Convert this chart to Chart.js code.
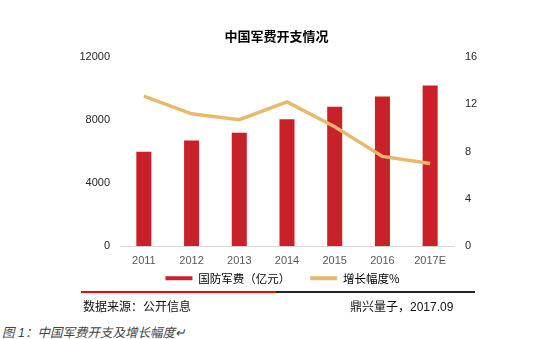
<!DOCTYPE html>
<html>
<head>
<meta charset="utf-8">
<script src="https://cdn.jsdelivr.net/npm/chart.js@4.4.0/dist/chart.umd.min.js"></script>
<style>
  body { margin: 0; background: #fff; }
  #wrap { position: relative; width: 553px; height: 339px; overflow: hidden; font-family: "Liberation Sans", "Noto Sans CJK SC", sans-serif; }
  #box { position: absolute; left: 0; top: 0; width: 553px; height: 317px; }
  .rule { position: absolute; top: 291px; height: 2px; }
  .note { position: absolute; top: 300px; font-size: 12px; color: #111; line-height: 14px; white-space: nowrap; }
  #caption { position: absolute; left: 2px; top: 325px; font-size: 12.5px; font-style: italic; color: #444; white-space: nowrap; line-height: 16px; }
</style>
</head>
<body>
<div id="wrap">
  <div id="box"><canvas id="c"></canvas></div>
  <div class="rule" style="left:81px;width:195px;background:#f00;"></div>
  <div class="rule" style="left:276px;width:199px;background:#222;"></div>
  <div class="note" style="left:83px;">数据来源：公开信息</div>
  <div class="note" style="left:350px;">鼎兴量子，2017.09</div>
  <div id="caption">图 1：中国军费开支及增长幅度↵</div>
</div>
<script>
var years = ['2011', '2012', '2013', '2014', '2015', '2016', '2017E'];
var spending = [6000, 6700, 7200, 8050, 8850, 9500, 10200];
var growth = [12.7, 11.2, 10.7, 12.2, 10.1, 7.6, 7.0];
var leftTicks = [0, 4000, 8000, 12000];
var rightTicks = [0, 4, 8, 12, 16];

var red = '#c9202a';
var tan = '#e8b96b';
var cjk = '"Noto Sans CJK SC", sans-serif';

// move the legend a little right and up, like the original
var shiftLegend = {
	id: 'shiftLegend',
	afterLayout: function(chart) {
		var l = chart.legend;
		l.left += 6; l.right += 6;
		l.top -= 23; l.bottom -= 23;
	}
};

function plain(v) { return String(v); }

var ctx = document.getElementById('c').getContext('2d');
window.myChart = new Chart(ctx, {
	type: 'bar',
	data: {
		labels: years,
		datasets: [
			{ label: '国防军费（亿元）', data: spending, backgroundColor: red, yAxisID: 'y', barPercentage: 0.315, categoryPercentage: 1, order: 2 },
			{ type: 'line', label: '增长幅度%', data: growth, borderColor: tan, backgroundColor: tan, borderWidth: 3.5, pointRadius: 0, tension: 0, yAxisID: 'y1', order: 1 }
		]
	},
	options: {
		responsive: true, maintainAspectRatio: false, animation: false,
		layout: { padding: 0 },
		plugins: {
			title: { display: true, text: '中国军费开支情况', color: '#000', font: { family: cjk, size: 13, weight: 'bold' }, padding: { top: 28, bottom: 13.4 } },
			legend: {
				position: 'bottom',
				labels: {
					boxWidth: 27, boxHeight: 4, padding: 20, color: '#000',
					font: { family: cjk, size: 11.5 },
					sort: function(a, b) { return a.datasetIndex - b.datasetIndex; },
					generateLabels: function(chart) {
						return Chart.defaults.plugins.legend.labels.generateLabels(chart).map(function(it) {
							it.lineWidth = 0;
							return it;
						});
					}
				}
			},
			tooltip: { enabled: false }
		},
		scales: {
			x: {
				grid: { display: false, drawTicks: false },
				border: { display: true, color: '#d9d9d9', width: 1 },
				ticks: { color: '#595959', font: { family: 'Liberation Sans', size: 11 }, padding: 8 }
			},
			y: {
				position: 'left', min: 0, max: 12000,
				afterBuildTicks: function(s) { s.ticks = leftTicks.map(function(v) { return { value: v }; }); },
				grid: { display: false, drawTicks: false },
				border: { display: false },
				ticks: { color: '#262626', font: { family: 'Liberation Sans', size: 11 }, padding: 10, callback: plain },
				afterFit: function(s) { s.width = 120; }
			},
			y1: {
				position: 'right', min: 0, max: 16,
				afterBuildTicks: function(s) { s.ticks = rightTicks.map(function(v) { return { value: v }; }); },
				grid: { display: false, drawTicks: false },
				border: { display: false },
				ticks: { color: '#262626', font: { family: 'Liberation Sans', size: 11 }, padding: 11, callback: plain },
				afterFit: function(s) { s.width = 99; }
			}
		}
	},
	plugins: [shiftLegend]
});
</script>
</body>
</html>
